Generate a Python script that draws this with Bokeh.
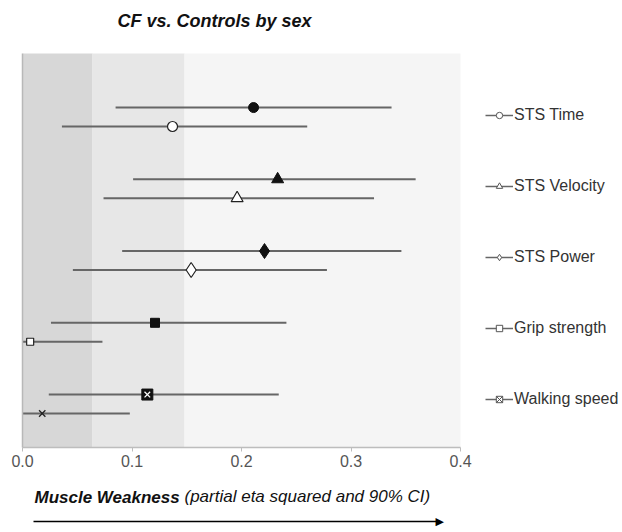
from bokeh.plotting import figure
from bokeh.models import (BoxAnnotation, Label, Legend, LegendItem, Title, LinearAxis,
                          FixedTicker, PrintfTickFormatter, ColumnDataSource)
from bokeh.embed import file_html
from bokeh.resources import INLINE

# ---------------- data ----------------
measures = ["STS Time", "STS Velocity", "STS Power", "Grip strength", "Walking speed"]
filled_est = [0.211, 0.233, 0.221, 0.121, 0.114]
filled_lo = [0.085, 0.101, 0.091, 0.026, 0.024]
filled_hi = [0.337, 0.359, 0.346, 0.241, 0.234]
open_est = [0.137, 0.196, 0.154, 0.007, 0.018]
open_lo = [0.036, 0.074, 0.046, 0.0, 0.0]
open_hi = [0.260, 0.321, 0.278, 0.073, 0.098]
band_edges = [0.0, 0.064, 0.148, 0.4]
x_ticks = [0.0, 0.1, 0.2, 0.3, 0.4]
title_text = "CF vs. Controls by sex"
xlabel_bold = "Muscle Weakness"
xlabel_rest = "(partial eta squared and 90% CI)"

FONT = "Liberation Sans"
NAN = float("nan")
n = len(measures)
row = [n - 1 - i for i in range(n)]
off = 0.132
y_f = [r + off for r in row]
y_o = [r - off for r in row]
Y_LO, Y_HI = -0.606, 4.885     # extent of the shaded panel
ARROW_X = (0.010, 0.381)       # arrow shaft extent (in x-axis units)

p = figure(width=622, height=532, output_backend="svg", toolbar_location=None,
           x_range=(0, 0.5479), y_range=(Y_LO, 5.624),
           min_border_left=22, min_border_right=0, min_border_top=0, min_border_bottom=85)
p.background_fill_color = "white"
p.border_fill_color = "white"
p.outline_line_color = None
p.grid.visible = False

band_colors = ["#d7d7d7", "#e7e7e7", "#f5f5f5"]
for i in range(3):
    p.add_layout(BoxAnnotation(left=band_edges[i], right=band_edges[i + 1], top=Y_HI,
                               fill_color=band_colors[i], fill_alpha=1, line_color=None,
                               level="underlay"))

# y axis: only its line along the panel's left edge
yax = p.yaxis[0]
yax.bounds = (Y_LO, Y_HI)
yax.ticker = FixedTicker(ticks=[])
yax.axis_line_color = "#b8b8b8"
yax.axis_line_width = 1.5
yax.major_tick_line_color = None
yax.minor_tick_line_color = None

# x axis
ax = p.xaxis[0]
ax.bounds = (band_edges[0], band_edges[-1])
ax.ticker = FixedTicker(ticks=x_ticks)
ax.formatter = PrintfTickFormatter(format="%.1f")
ax.axis_line_color = "#bdbdbd"
ax.axis_line_width = 1.5
ax.major_tick_line_color = "#bdbdbd"
ax.major_tick_out = 4
ax.major_tick_in = 0
ax.minor_tick_line_color = None
ax.major_label_text_font = FONT
ax.major_label_text_font_size = "16px"
ax.major_label_text_color = "#555555"
ax.major_label_standoff = 3

# error bars
p.segment(x0=filled_lo, x1=filled_hi, y0=y_f, y1=y_f, line_color="#666666", line_width=2)
p.segment(x0=open_lo, x1=open_hi, y0=y_o, y1=y_o, line_color="#666666", line_width=2)

# markers
fm = ["circle", "triangle", "diamond", "square", "square"]
fs = [10, 12, 15, 9, 11]
om = ["circle", "triangle", "diamond", "square", "x"]
osz = [10, 12, 15, 7, 9]
for i in range(n):
    p.scatter([filled_est[i]], [y_f[i]], marker=fm[i], size=fs[i],
              fill_color="#111111", line_color="#111111")
    if om[i] == "x":
        p.scatter([open_est[i]], [y_o[i]], marker="x", size=osz[i], line_color="#222222", line_width=1.3)
    else:
        p.scatter([open_est[i]], [y_o[i]], marker=om[i], size=osz[i],
                  fill_color="white", line_color="#222222", line_width=1.2)
p.scatter([filled_est[4]], [y_f[4]], marker="x", size=8, line_color="white", line_width=1.3)

# legend (legend-only renderers: a single NaN point, never drawn in the plot)
items = []
lmark = ["circle", "triangle", "diamond", "square", "square_x"]
for i in range(n):
    src = ColumnDataSource(data=dict(x=[NAN], y=[NAN]))
    lr = p.line("x", "y", source=src, line_color="#666666", line_width=1.5)
    mr = p.scatter("x", "y", source=src, marker=lmark[i], fill_color="white",
                   line_color="#555555", line_width=1)
    items.append(LegendItem(label=measures[i], renderers=[lr, mr]))
legend = Legend(items=items, location=(463, 38), orientation="vertical",
                label_text_font=FONT, label_text_font_size="16px", label_text_color="#333333",
                glyph_width=28, glyph_height=16, label_height=20, spacing=51,
                label_standoff=1, padding=0, margin=0, border_line_color=None,
                background_fill_alpha=0)
p.add_layout(legend, "center")

# title inside the (white) top strip of the frame
p.add_layout(Label(x=95, y=427, x_units="screen", y_units="screen", text=title_text,
                   text_font=FONT, text_font_size="18px", text_font_style="bold italic",
                   text_color="#111111", text_baseline="middle", text_align="left"))

# caption below the axis (two titles sharing one line)
p.add_layout(Title(text=xlabel_bold, align="left", offset=12, standoff=-74,
                   text_font=FONT, text_font_size="17px", text_font_style="bold italic",
                   text_color="#111111"), "below")
p.add_layout(Title(text=xlabel_rest, align="left", offset=162, standoff=31,
                   text_font=FONT, text_font_size="17px", text_font_style="italic",
                   text_color="#111111"), "below")

# arrow: a bare axis line with a head as its single tick label
arr = LinearAxis(bounds=ARROW_X, ticker=FixedTicker(ticks=[ARROW_X[1]]),
                 major_label_overrides={ARROW_X[1]: "\u25b6"})
arr.axis_line_color = "black"
arr.axis_line_width = 1.5
arr.major_tick_line_color = None
arr.major_tick_out = 0
arr.major_tick_in = 0
arr.minor_tick_line_color = None
arr.major_label_text_font = "DejaVu Sans"
arr.major_label_text_font_size = "11px"
arr.major_label_text_color = "black"
arr.major_label_standoff = -7
p.add_layout(arr, "below")

open("out.html", "w").write(file_html(p, INLINE))
